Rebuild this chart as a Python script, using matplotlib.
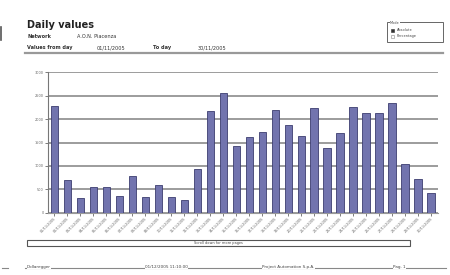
import matplotlib
matplotlib.use("Agg")
import matplotlib.pyplot as plt
from matplotlib.lines import Line2D
from matplotlib.patches import Rectangle

days = [f"{d:02d}/11/2005" for d in range(1, 31)]
values = [2285, 700, 315, 555, 555, 355, 785, 330, 600, 340, 270, 925, 2180, 2550,
          1430, 1615, 1730, 2195, 1875, 1640, 2245, 1390, 1700, 2265, 2135, 2135,
          2345, 1040, 710, 415]
yticks = [0, 500, 1000, 1500, 2000, 2500, 3000]

W, H = 450, 275
fig = plt.figure(figsize=(4.5, 2.75), dpi=100)
fig.patch.set_facecolor("white")

def fx(x):
    return x / W

def fy(y):
    return 1 - y / H

# axes
ax = fig.add_axes([fx(47.7), fy(212.7), fx(438) - fx(47.7), fy(72.3) - fy(212.7)])
x = list(range(len(values)))
ax.bar(x, values, width=0.56, color="#7274ae", edgecolor="#3c3d70", linewidth=0.6, zorder=3)
ax.set_xlim(-0.5, 29.53)
ax.set_ylim(0, 3000)
ax.set_yticks(yticks)
ax.set_yticklabels([str(v) for v in yticks], fontsize=2.5, color="#444")
ax.yaxis.grid(True, color="#9c9c9c", linewidth=1.4, zorder=0)
ax.set_xticks(x)
ax.set_xticklabels(days, rotation=45, ha="right", rotation_mode="anchor", fontsize=2.5, color="#444")
ax.tick_params(axis="both", length=2, width=0.6, colors="#666", pad=1)
for s in ["top", "right"]:
    ax.spines[s].set_visible(False)
ax.spines["left"].set_color("#777")
ax.spines["bottom"].set_color("#999")
ax.spines["left"].set_linewidth(0.8)

# header
fig.text(fx(27), fy(25.5), "Daily values", fontsize=7, fontweight="bold", va="center", ha="left", color="#222")
fig.text(fx(27), fy(36.7), "Network", fontsize=3.6, fontweight="bold", va="center", ha="left", color="#333")
fig.text(fx(77), fy(36.7), "A.O.N. Piacenza", fontsize=3.6, va="center", ha="left", color="#333")
fig.text(fx(27), fy(47.7), "Values from day", fontsize=3.6, fontweight="bold", va="center", ha="left", color="#333")
fig.text(fx(97), fy(47.7), "01/11/2005", fontsize=3.6, va="center", ha="left", color="#333")
fig.text(fx(153), fy(47.7), "To day", fontsize=3.6, fontweight="bold", va="center", ha="left", color="#333")
fig.text(fx(198), fy(47.7), "30/11/2005", fontsize=3.6, va="center", ha="left", color="#333")
fig.add_artist(Line2D([fx(25), fx(443)], [fy(52.7), fy(52.7)], color="#999", linewidth=1.6))
fig.add_artist(Line2D([fx(1), fx(1)], [fy(27), fy(40)], color="#555", linewidth=1.2))

# mode box top right
fig.add_artist(Rectangle((fx(387), fy(42)), fx(443) - fx(387), fy(22) - fy(42),
                         fill=False, edgecolor="#666", linewidth=0.7))
fig.text(fx(390), fy(23), "Mode", fontsize=2.5, va="center", ha="left", color="#444",
         bbox=dict(facecolor="white", edgecolor="none", pad=0.2))
fig.add_artist(Rectangle((fx(391), fy(31.5)), fx(3), fy(0) - fy(3), facecolor="#333", edgecolor="#333", linewidth=0.4))
fig.text(fx(397), fy(30), "Absolute", fontsize=2.5, va="center", ha="left", color="#444")
fig.add_artist(Rectangle((fx(391), fy(37.5)), fx(3), fy(0) - fy(3), facecolor="white", edgecolor="#888", linewidth=0.4))
fig.text(fx(397), fy(36), "Percentage", fontsize=2.5, va="center", ha="left", color="#444")

# scroll box
fig.add_artist(Rectangle((fx(27), fy(246)), fx(410) - fx(27), fy(240) - fy(246),
                         fill=False, edgecolor="#555", linewidth=0.8))
fig.text(fx(218), fy(243), "Scroll down for more pages", fontsize=2.5, va="center", ha="center", color="#444")

# footer
fig.add_artist(Line2D([fx(25), fx(446)], [fy(267.5), fy(267.5)], color="#888", linewidth=0.8))
fig.add_artist(Line2D([fx(2), fx(8)], [fy(268), fy(268)], color="#888", linewidth=0.8))
fig.text(fx(27), fy(267), "Dollaregger", fontsize=3, va="center", ha="left", color="#444",
         bbox=dict(facecolor="white", edgecolor="none", pad=0.3))
fig.text(fx(145), fy(267), "01/12/2005 11:10:00", fontsize=3, va="center", ha="left", color="#444",
         bbox=dict(facecolor="white", edgecolor="none", pad=0.3))
fig.text(fx(262), fy(267), "Project Automation S.p.A.", fontsize=3, va="center", ha="left", color="#444",
         bbox=dict(facecolor="white", edgecolor="none", pad=0.3))
fig.text(fx(393), fy(267), "Pag. 1", fontsize=3, va="center", ha="left", color="#444",
         bbox=dict(facecolor="white", edgecolor="none", pad=0.3))

fig.savefig("out.png", dpi=100)
